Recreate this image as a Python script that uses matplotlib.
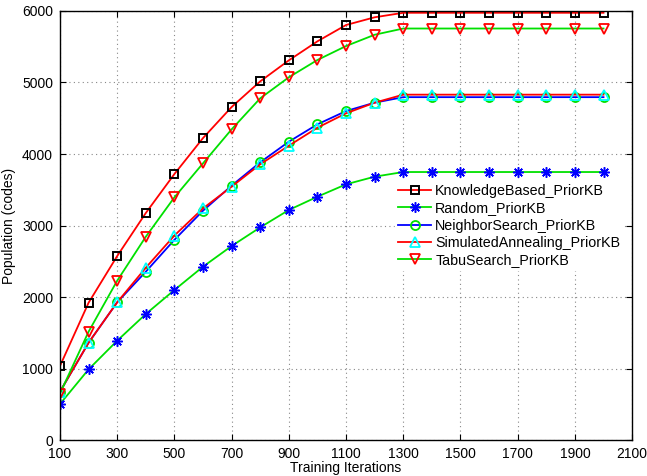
import numpy as np
import matplotlib
matplotlib.use('Agg')
import matplotlib.pyplot as plt

plt.rcParams['font.family'] = ['Liberation Sans', 'DejaVu Sans']

iterations = [100, 200, 300, 400, 500, 600, 700, 800, 900, 1000,
              1100, 1200, 1300, 1400, 1500, 1600, 1700, 1800, 1900, 2000]

knowledge_based = [1035, 1920, 2573, 3175, 3720, 4223, 4657, 5016, 5310, 5576,
                   5804, 5912, 5975, 5975, 5975, 5975, 5975, 5975, 5975, 5975]
random_search = [503, 988, 1389, 1762, 2098, 2424, 2713, 2974, 3217, 3403,
                 3576, 3683, 3748, 3748, 3748, 3748, 3748, 3748, 3748, 3748]
neighbor_search = [676, 1361, 1926, 2354, 2800, 3207, 3557, 3884, 4172, 4415,
                   4601, 4718, 4795, 4795, 4795, 4795, 4795, 4795, 4795, 4795]
simulated_annealing = [676, 1361, 1926, 2410, 2860, 3240, 3543, 3856, 4116, 4368,
                       4569, 4718, 4830, 4830, 4830, 4830, 4830, 4830, 4830, 4830]
tabu_search = [650, 1515, 2228, 2843, 3394, 3870, 4345, 4779, 5073, 5315,
               5510, 5668, 5755, 5755, 5755, 5755, 5755, 5755, 5755, 5755]

labels = ['KnowledgeBased_PriorKB', 'Random_PriorKB', 'NeighborSearch_PriorKB',
          'SimulatedAnnealing_PriorKB', 'TabuSearch_PriorKB']

fig = plt.figure(figsize=(6.47, 4.76), dpi=100)
ax = fig.add_axes([0.0927, 0.0756, 0.8843, 0.9013])

lw = 1.3
ax.plot(iterations, knowledge_based, color='red', lw=lw, marker='s', ms=5.5,
        mfc='none', mec='black', mew=1.4, label=labels[0])
ax.plot(iterations, random_search, color='#00e000', lw=lw, marker=(8, 2, 0), ms=7.5,
        mec='blue', mew=1.1, label=labels[1])
ax.plot(iterations, neighbor_search, color='blue', lw=lw, marker='o', ms=6.5,
        mfc='none', mec='#00e000', mew=1.3, label=labels[2])
ax.plot(iterations, simulated_annealing, color='red', lw=lw, marker='^', ms=7,
        mfc='none', mec='cyan', mew=1.3, label=labels[3])
ax.plot(iterations, tabu_search, color='#00e000', lw=lw, marker='v', ms=7,
        mfc='none', mec='red', mew=1.3, label=labels[4])

ax.set_xlim(100, 2100)
ax.set_ylim(0, 6000)
ax.set_xticks(np.arange(100, 2101, 200))
ax.set_yticks(np.arange(0, 6001, 1000))
ax.tick_params(direction='in', top=True, right=True, labelsize=10, length=4)
ax.tick_params(axis='y', pad=5)
ax.tick_params(axis='x', pad=5)
ax.grid(True, linestyle=(0, (1, 3)), color='#888888', linewidth=0.8)
for s in ax.spines.values():
    s.set_linewidth(1.0)

ax.set_xlabel('Training Iterations', fontsize=10, labelpad=0)
ax.set_ylabel('Population (codes)', fontsize=10, labelpad=4)

leg = ax.legend(loc='upper left', bbox_to_anchor=(0.586, 0.604), fontsize=10.3,
                frameon=True, fancybox=False, edgecolor='white', framealpha=1,
                handlelength=2.3, labelspacing=0.24, borderpad=0.2,
                handletextpad=0.3, borderaxespad=0)

fig.savefig('out.png', dpi=100)
